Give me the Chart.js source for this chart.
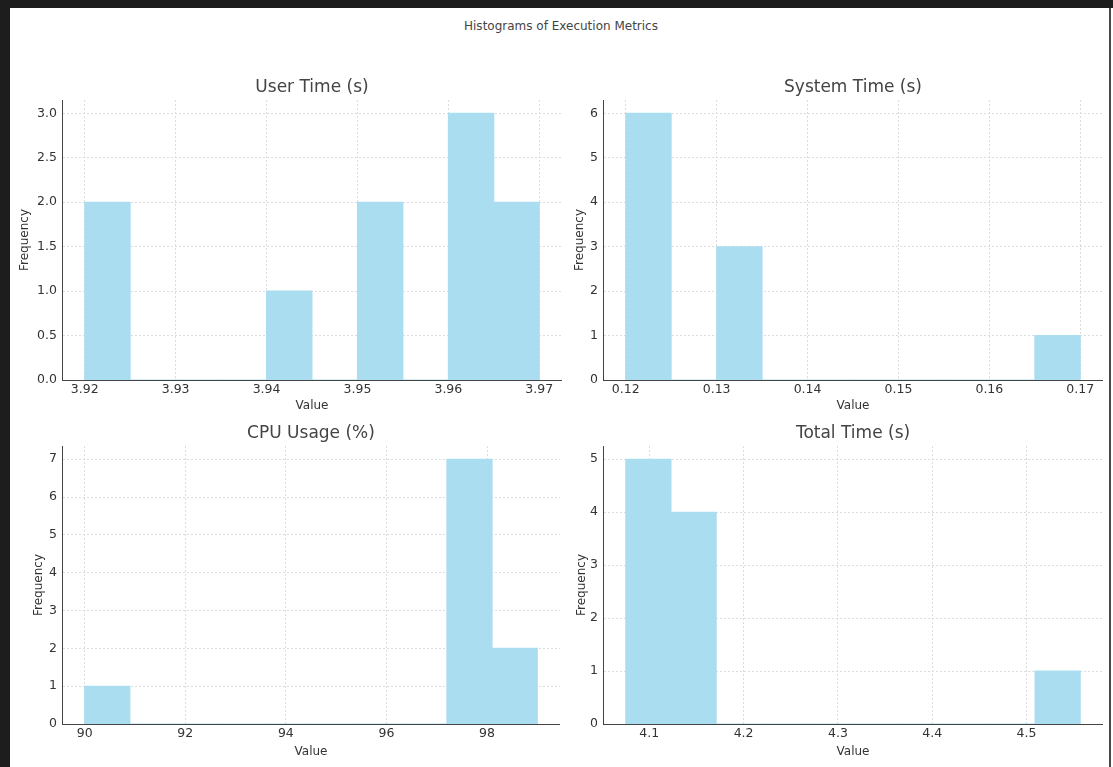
<!DOCTYPE html>
<html>
<head>
<meta charset="utf-8">
<title>Histograms of Execution Metrics</title>
<script src="https://cdn.jsdelivr.net/npm/chart.js@4.4.1/dist/chart.umd.min.js"></script>
<style>
  html, body { margin: 0; padding: 0; background: #fff; }
  body { width: 1113px; height: 767px; position: relative; overflow: hidden; font-family: "DejaVu Sans", sans-serif; }
  .frame-top { position: absolute; left: 0; top: 0; width: 1113px; height: 8px; background: #1d1d1d; }
  .frame-left { position: absolute; left: 0; top: 0; width: 10px; height: 767px; background: #1d1d1d; }
  .frame-right { position: absolute; left: 1109px; top: 8px; width: 2px; height: 759px; background: #4a4a4a; }
  #suptitle { position: absolute; left: 10px; width: 1102px; top: 19px; line-height: 14px; text-align: center; font-size: 12px; color: #444; }
  canvas { position: absolute; }
</style>
</head>
<body>
<div class="frame-top"></div>
<div class="frame-left"></div>
<div class="frame-right"></div>
<div id="suptitle">Histograms of Execution Metrics</div>

<canvas id="user-time" width="550" height="336" style="left:12px; top:77px;"></canvas>
<canvas id="system-time" width="530" height="336" style="left:573px; top:77px;"></canvas>
<canvas id="cpu-usage" width="528" height="336" style="left:32px; top:423px;"></canvas>
<canvas id="total-time" width="530" height="336" style="left:573px; top:423px;"></canvas>

<script>
// bin edges + counts (10 bins each)
const userEdges = [3.920, 3.925, 3.930, 3.935, 3.940, 3.945, 3.950, 3.955, 3.960, 3.965, 3.970];
const userCounts = [2, 0, 0, 0, 1, 0, 2, 0, 3, 2];
const userXTicks = [3.92, 3.93, 3.94, 3.95, 3.96, 3.97];
const userYTicks = [0, 0.5, 1.0, 1.5, 2.0, 2.5, 3.0];

const sysEdges = [0.120, 0.125, 0.130, 0.135, 0.140, 0.145, 0.150, 0.155, 0.160, 0.165, 0.170];
const sysCounts = [6, 0, 3, 0, 0, 0, 0, 0, 0, 1];
const sysXTicks = [0.12, 0.13, 0.14, 0.15, 0.16, 0.17];
const sysYTicks = [0, 1, 2, 3, 4, 5, 6];

const cpuEdges = [90.0, 90.9, 91.8, 92.7, 93.6, 94.5, 95.4, 96.3, 97.2, 98.1, 99.0];
const cpuCounts = [1, 0, 0, 0, 0, 0, 0, 0, 7, 2];
const cpuXTicks = [90, 92, 94, 96, 98];
const cpuYTicks = [0, 1, 2, 3, 4, 5, 6, 7];

const totalEdges = [4.075, 4.123, 4.171, 4.220, 4.268, 4.316, 4.364, 4.412, 4.461, 4.509, 4.557];
const totalCounts = [5, 4, 0, 0, 0, 0, 0, 0, 0, 1];
const totalXTicks = [4.1, 4.2, 4.3, 4.4, 4.5];
const totalYTicks = [0, 1, 2, 3, 4, 5];

const FONT = 'DejaVu Sans';
const BAR_COLOR = '#abddf1';   // skyblue @ 0.7 on white

function binCenters(edges) {
    return edges.slice(0, -1).map((e, i) => (e + edges[i + 1]) / 2);
}

function histogram(id, cfg) {
    const ctx = document.getElementById(id).getContext('2d');
    const mids = binCenters(cfg.edges);

    new Chart(ctx, {
        type: 'bar',
        data: {
            datasets: [{
                data: mids.map((x, i) => ({ x: x, y: cfg.counts[i] })),
                backgroundColor: BAR_COLOR,
                borderWidth: 0,
                inflateAmount: 0.5,   // hide seams between touching bins
                barPercentage: 1,
                categoryPercentage: 1
            }]
        },
        options: {
            responsive: false,
            animation: false,
            devicePixelRatio: 1,
            layout: { padding: 0 },
            plugins: {
                legend: { display: false },
                tooltip: { enabled: false },
                title: {
                    display: true,
                    fullSize: false,
                    text: cfg.title,
                    color: '#444',
                    font: { family: FONT, size: 17, weight: 'normal' },
                    padding: { top: 0, bottom: 2.6 }
                }
            },
            scales: {
                x: {
                    type: 'linear',
                    min: cfg.xMin,
                    max: cfg.xMax,
                    offset: false,
                    afterBuildTicks: s => { s.ticks = cfg.xTicks.map(v => ({ value: v })); },
                    afterFit: s => { s.height = cfg.xHeight; },
                    ticks: {
                        callback: v => Number(v).toFixed(cfg.xDec),
                        color: '#333',
                        font: { family: FONT, size: 12.5 },
                        padding: 2,
                        maxRotation: 0,
                        autoSkip: false
                    },
                    grid: { color: '#dcdcdc', drawTicks: false, offset: false },
                    border: { color: '#444', width: 1, dash: [2, 2] },
                    title: { display: true, text: 'Value', color: '#333', font: { family: FONT, size: 12 }, padding: 0 }
                },
                y: {
                    min: 0,
                    max: cfg.yMax,
                    afterBuildTicks: s => { s.ticks = cfg.yTicks.map(v => ({ value: v })); },
                    afterFit: s => { s.width = cfg.yWidth; },
                    ticks: {
                        callback: v => Number(v).toFixed(cfg.yDec),
                        color: '#333',
                        font: { family: FONT, size: 12.5 },
                        padding: 5
                    },
                    grid: { color: '#dcdcdc', drawTicks: false },
                    border: { color: '#444', width: 1, dash: [2, 2] },
                    title: { display: true, text: 'Frequency', color: '#333', font: { family: FONT, size: 12 }, padding: { top: cfg.fPad, bottom: 0 } }
                }
            }
        }
    });
}

histogram('user-time', {
    title: 'User Time (s)', edges: userEdges, counts: userCounts,
    xTicks: userXTicks, yTicks: userYTicks, xDec: 2, yDec: 1,
    xMin: 3.9175, xMax: 3.9725, yMax: 3.15,
    yWidth: 50, xHeight: 33, fPad: 6
});

histogram('system-time', {
    title: 'System Time (s)', edges: sysEdges, counts: sysCounts,
    xTicks: sysXTicks, yTicks: sysYTicks, xDec: 2, yDec: 0,
    xMin: 0.1175, xMax: 0.1725, yMax: 6.3,
    yWidth: 30, xHeight: 33, fPad: 0
});

histogram('cpu-usage', {
    title: 'CPU Usage (%)', edges: cpuEdges, counts: cpuCounts,
    xTicks: cpuXTicks, yTicks: cpuYTicks, xDec: 0, yDec: 0,
    xMin: 89.55, xMax: 99.45, yMax: 7.35,
    yWidth: 30, xHeight: 35, fPad: 0
});

histogram('total-time', {
    title: 'Total Time (s)', edges: totalEdges, counts: totalCounts,
    xTicks: totalXTicks, yTicks: totalYTicks, xDec: 1, yDec: 0,
    xMin: 4.0509, xMax: 4.5811, yMax: 5.25,
    yWidth: 30, xHeight: 35, fPad: 2
});
</script>
</body>
</html>
